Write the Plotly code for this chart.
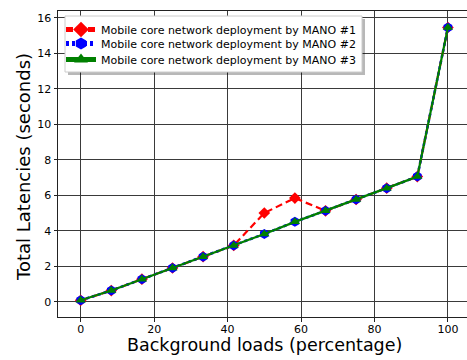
import plotly.graph_objects as go

# Background load levels (percentage) and total latencies (seconds)
loads = [0, 8.33, 16.67, 25, 33.33, 41.67, 50, 58.33, 66.67, 75, 83.33, 91.67, 100]
mano1 = [0.08, 0.63, 1.27, 1.90, 2.54, 3.17, 5.00, 5.84, 5.12, 5.76, 6.40, 7.05, 15.45]
mano2 = [0.08, 0.63, 1.27, 1.90, 2.54, 3.17, 3.82, 4.50, 5.12, 5.76, 6.40, 7.05, 15.45]
mano3 = [0.08, 0.63, 1.27, 1.90, 2.54, 3.17, 3.82, 4.50, 5.12, 5.76, 6.40, 7.05, 15.45]

names = [
    "Mobile core network deployment by MANO #1",
    "Mobile core network deployment by MANO #2",
    "Mobile core network deployment by MANO #3",
]
x_ticks = [0, 20, 40, 60, 80, 100]
y_ticks = [0, 2, 4, 6, 8, 10, 12, 14, 16]

W, H = 467, 360
ML, MR, MT, MB = 58, 0, 11, 43
PW, PH = W - ML - MR, H - MT - MB

FONT = "DejaVu Sans"


def px_x(p):
    return (p - ML) / PW


def px_y(p):
    return 1 - (p - MT) / PH


fig = go.Figure()
fig.add_trace(go.Scatter(
    x=loads, y=mano1, name=names[0], mode="lines+markers", legend="legend",
    line=dict(color="#ff0000", width=2.2, dash="7px,4px"),
    marker=dict(symbol="diamond", size=9, color="#ff0000"),
))
fig.add_trace(go.Scatter(
    x=loads, y=mano2, name=names[1], mode="lines+markers", legend="legend2",
    line=dict(color="#0000ff", width=2.6, dash="3px,3px"),
    marker=dict(symbol="hexagon", size=10, color="#0000ff"),
))
fig.add_trace(go.Scatter(
    x=loads, y=mano3, name=names[2], mode="lines+markers", legend="legend3",
    line=dict(color="#008000", width=2.2),
    marker=dict(symbol="triangle-up", size=9, color="#008000"),
))

# legend frame with a soft drop shadow
lg_l, lg_t, lg_r, lg_b = 65, 16, 362, 72
fig.add_shape(
    type="rect", xref="paper", yref="paper", layer="above",
    x0=px_x(lg_l + 3), x1=px_x(lg_r + 3), y0=px_y(lg_b + 3), y1=px_y(lg_t + 3),
    fillcolor="rgba(0,0,0,0.28)", line=dict(width=0),
)
fig.add_shape(
    type="rect", xref="paper", yref="paper", layer="above",
    x0=px_x(lg_l), x1=px_x(lg_r), y0=px_y(lg_b), y1=px_y(lg_t),
    fillcolor="white", line=dict(color="#cccccc", width=1),
)

axis_common = dict(
    showline=True, linecolor="#222222", linewidth=1, mirror=True,
    ticks="outside", ticklen=3.5, tickwidth=1, tickcolor="#222222",
    showgrid=True, gridcolor="#3a3a3a", gridwidth=1,
    zeroline=False, tickfont=dict(family=FONT, size=11, color="#000000"),
)

fig.update_xaxes(range=[-6.18, 105.2], tickvals=x_ticks, ticklabelstandoff=-2, **axis_common)
fig.update_yaxes(range=[-0.86, 16.38], tickvals=y_ticks, **axis_common)

fig.add_annotation(
    text="Background loads (percentage)", xref="paper", yref="paper",
    x=px_x(264), y=px_y(345), xanchor="center", yanchor="middle",
    showarrow=False, font=dict(family=FONT, size=17.5, color="#000000"),
)
fig.add_annotation(
    text="Total Latencies (seconds)", xref="paper", yref="paper",
    x=px_x(23), y=px_y(167), xanchor="center", yanchor="middle",
    showarrow=False, textangle=-90, font=dict(family=FONT, size=18, color="#000000"),
)

# one legend per row so the rows sit at exact heights inside the frame
legend_style = dict(
    xanchor="left", yanchor="top", bgcolor="rgba(0,0,0,0)", borderwidth=0,
    font=dict(family=FONT, size=11, color="#000000"), itemsizing="constant",
)
row_tops = [15, 29, 45]

fig.update_layout(
    width=W, height=H,
    margin=dict(l=ML, r=MR, t=MT, b=MB, autoexpand=False),
    paper_bgcolor="white", plot_bgcolor="white",
    font=dict(family=FONT, size=11, color="#000000"),
    showlegend=True,
    legend=dict(x=px_x(61), y=px_y(row_tops[0]), **legend_style),
    legend2=dict(x=px_x(61), y=px_y(row_tops[1]), **legend_style),
    legend3=dict(x=px_x(61), y=px_y(row_tops[2]), **legend_style),
)

fig.write_html("out.html")
